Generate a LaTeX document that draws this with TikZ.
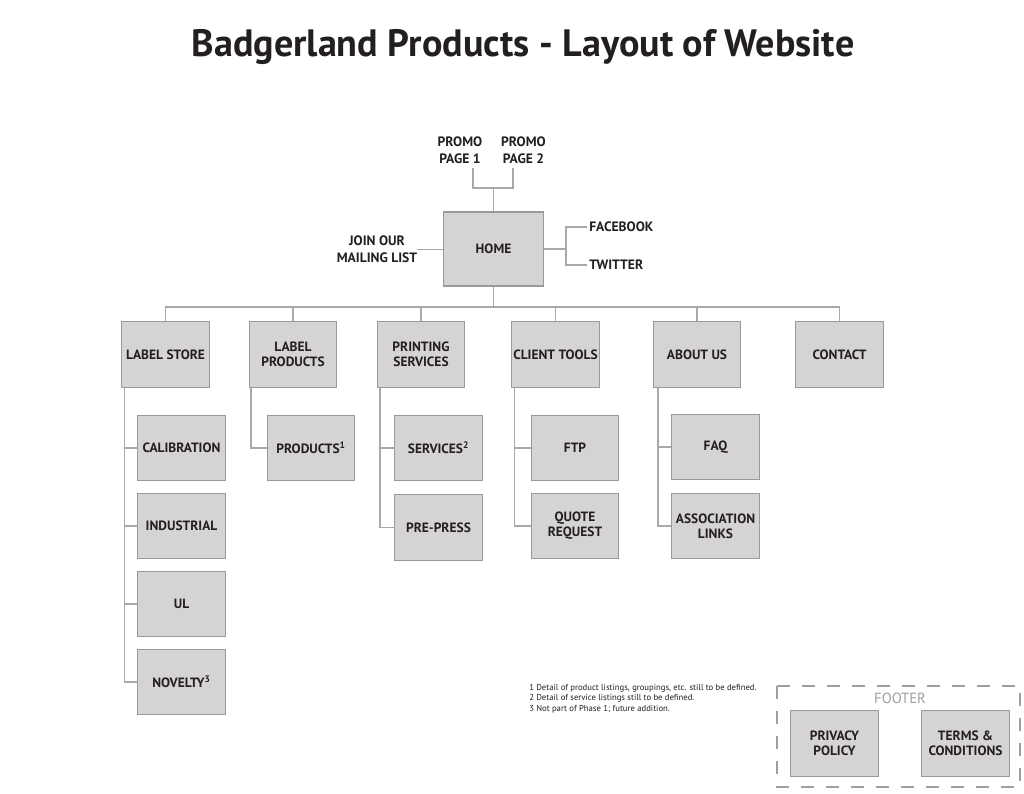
\documentclass[tikz,border=0pt]{standalone}
\usepackage{fontspec}
\setmainfont{PT Sans}
\usetikzlibrary{calc}
\definecolor{boxfill}{HTML}{D5D3D6}
\definecolor{boxline}{HTML}{9A9A9C}
\definecolor{linegray}{HTML}{A7A9AC}
\definecolor{ink}{HTML}{231F20}
\definecolor{footgray}{HTML}{9D9FA2}
\begin{document}
\begin{tikzpicture}[x=0.75pt,y=-0.75pt,
  box/.style={draw=boxline, fill=boxfill, line width=0.8pt, minimum width=65.5pt, minimum height=49pt,
    align=center, font=\fontsize{10.1}{11.4}\selectfont\bfseries, text=ink, inner sep=0pt},
  homebox/.style={box, minimum width=74.5pt, minimum height=55.5pt},
  wire/.style={draw=linegray, line width=1.1pt},
  lbl/.style={font=\fontsize{10.2}{12.7}\selectfont\bfseries, text=ink, align=center, inner sep=0pt},
  note/.style={font=\fontsize{6.5}{7.8}\selectfont, text=ink, align=left, inner sep=0pt, anchor=north west},
  ttl/.style={font=\fontsize{28.6}{34}\selectfont\bfseries, text=ink, inner sep=0pt}]
\useasboundingbox (0,0) rectangle (1024,793);
\fill[white] (0,0) rectangle (1024,793);

\node[ttl] (title) at (523,47) {Badgerland Products - Layout of Website};

% home and surroundings
\node[homebox] (home) at (493.5,249) {HOME};
\node[lbl] (p1) at (460,150) {PROMO\\PAGE 1};
\node[lbl] (p2) at (523.5,150) {PROMO\\PAGE 2};
\node[lbl] (mail) at (377,249.5) {JOIN OUR\\MAILING LIST};
\node[lbl, anchor=west] (fb) at (589,227) {FACEBOOK};
\node[lbl, anchor=west] (tw) at (589,265) {TWITTER};

\coordinate (pj) at (493.5,188);
\coordinate (p1e) at (473,168);
\coordinate (p2e) at (513,168);
\draw[wire] (home.north) -- (pj);
\draw[wire] (p1e) |- (pj) -| (p2e);
\draw[wire] (mail.east) -- (mail.east -| home.west);
\coordinate (sj) at (566,249);
\draw[wire] (home.east) -- (sj);
\draw[wire] ($(fb.west)+(-2,0)$) -| (sj) |- ($(tw.west)+(-2,0)$);

% top level
\node[box] (LS) at (165.5,354.5) {LABEL STORE};
\node[box] (LP) at (293,354.5) {LABEL\\PRODUCTS};
\node[box] (PS) at (421,354.5) {PRINTING\\SERVICES};
\node[box] (CT) at (555.5,354.5) {CLIENT TOOLS};
\node[box] (AU) at (697,354.5) {ABOUT US};
\node[box] (CO) at (839.5,354.5) {CONTACT};

\coordinate (bus) at (493.5,307);
\draw[wire] (home.south) -- (bus);
\draw[wire] (LS.north) -- (LS.north |- bus) -- (CO.north |- bus) -- (CO.north);
\foreach \n in {LP,PS,CT,AU} \draw[wire] (\n.north) -- (\n.north |- bus);

% children
\node[box] (CAL) at (181.5,448) {CALIBRATION};
\node[box] (IND) at (181.5,526) {INDUSTRIAL};
\node[box] (UL) at (181.5,604) {UL};
\node[box] (NOV) at (181.5,682) {NOVELTY\textsuperscript{3}};
\node[box] (PROD) at (311,448) {PRODUCTS\textsuperscript{1}};
\node[box] (SERV) at (438.5,448) {SERVICES\textsuperscript{2}};
\node[box] (PRE) at (438.5,527.5) {PRE-PRESS};
\node[box] (FTP) at (575,448) {FTP};
\node[box] (QR) at (575,526) {QUOTE\\REQUEST};
\node[box] (FAQ) at (715.5,447) {FAQ};
\node[box] (AL) at (715.5,526) {ASSOCIATION\\LINKS};

\coordinate (lsT) at ($(LS.south west)+(3,0)$);
\draw[wire] (lsT) |- (NOV.west);
\foreach \n in {CAL,IND,UL} \draw[wire] (\n.west -| lsT) -- (\n.west);
\coordinate (lpT) at ($(LP.south west)+(2,0)$);
\draw[wire] (lpT) |- (PROD.west);
\coordinate (psT) at ($(PS.south west)+(3,0)$);
\draw[wire] (psT) |- (PRE.west);
\draw[wire] (SERV.west -| psT) -- (SERV.west);
\coordinate (ctT) at ($(CT.south west)+(3,0)$);
\draw[wire] (ctT) |- (QR.west);
\draw[wire] (FTP.west -| ctT) -- (FTP.west);
\coordinate (auT) at ($(AU.south west)+(5,0)$);
\draw[wire] (auT) |- (AL.west);
\draw[wire] (FAQ.west -| auT) -- (FAQ.west);

% footnotes
\node[note] (notes) at (529,684) {1 Detail of product listings, groupings, etc. still to be defined.\\2 Detail of service listings still to be defined.\\3 Not part of Phase 1; future addition.};

% footer
\draw[footgray, line width=0.8pt, dash pattern=on 9.75pt off 9pt] (777,686) rectangle (1020,787);
\node[font=\fontsize{11}{13}\selectfont, text=footgray, inner sep=0pt] (footer) at (900,698) {FOOTER};
\node[box] (PP) at (834.5,743.5) {PRIVACY\\POLICY};
\node[box] (TC) at (965.5,743.5) {TERMS \&\\CONDITIONS};
\end{tikzpicture}
\end{document}
